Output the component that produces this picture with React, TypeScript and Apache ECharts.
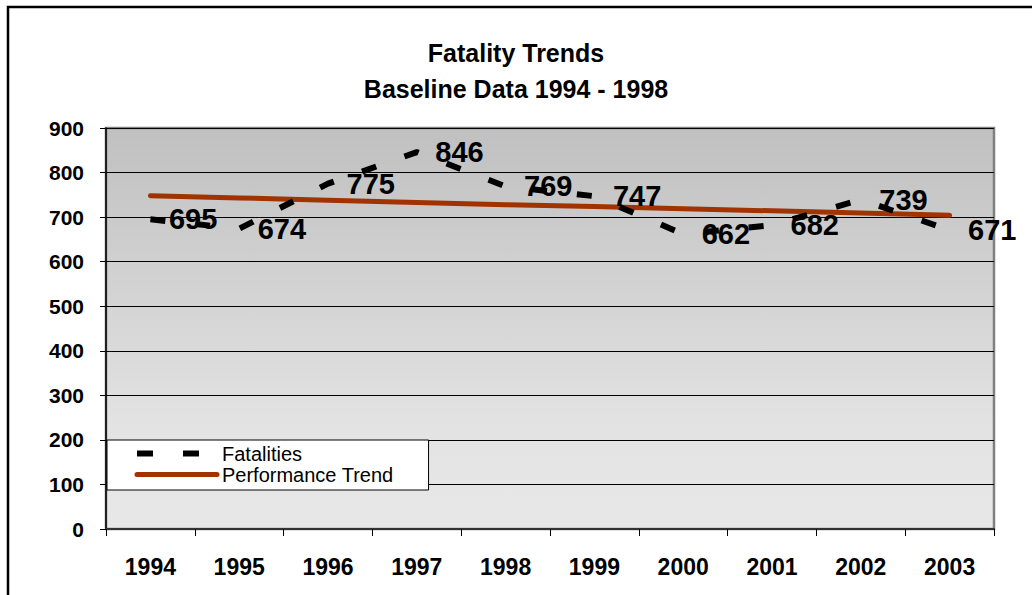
import React, { useEffect, useRef } from "react";
import * as echarts from "echarts";

const years = ["1994", "1995", "1996", "1997", "1998", "1999", "2000", "2001", "2002", "2003"];
const fatalities = [695, 674, 775, 846, 769, 747, 662, 682, 739, 671];
const trend = [748, 743, 738, 733, 728, 724, 719, 714, 709, 704];
const titleLines = ["Fatality Trends", "Baseline Data 1994 - 1998"];

export default function App() {
  const ref = useRef<HTMLDivElement>(null);
  useEffect(() => {
    if (!ref.current) return;
    const chart = echarts.init(ref.current, undefined, { renderer: "svg" });
    const font = "Arial, 'Liberation Sans', Helvetica, sans-serif";
    chart.setOption({
      animation: false,
      textStyle: { fontFamily: font },
      title: {
        text: titleLines.join("\n"),
        left: "center",
        top: 35,
        padding: [0, 0, 0, 8],
        textStyle: { fontSize: 25, fontWeight: "bold", color: "#000", lineHeight: 36, fontFamily: font },
      },
      graphic: [
        {
          type: "rect",
          shape: { x: 8, y: 7, width: 1200, height: 800 },
          style: { fill: "none", stroke: "#000", lineWidth: 2.5 },
          silent: true,
        },
      ],
      legend: {
        orient: "vertical",
        left: 107,
        top: 440,
        padding: [3, 35, 5, 27],
        itemWidth: 80,
        itemHeight: 14,
        itemGap: 0,
        backgroundColor: "#fff",
        borderColor: "#000",
        borderWidth: 1,
        borderRadius: 0,
        itemStyle: { opacity: 0 },
        textStyle: { fontSize: 20, color: "#000", lineHeight: 21, fontFamily: font },
        data: [
          { name: "Fatalities", lineStyle: { width: 6, type: [16, 30], color: "#000", cap: "butt" } },
          { name: "Performance Trend", lineStyle: { width: 5, color: "#A03300", cap: "round" } },
        ],
      },
      grid: {
        left: 106,
        right: 38,
        top: 128,
        bottom: 66,
        show: true,
        borderColor: "#808080",
        borderWidth: 2.5,
        backgroundColor: new echarts.graphic.LinearGradient(0, 0, 0, 1, [
          { offset: 0, color: "#C0C0C0" },
          { offset: 0.75, color: "#E3E3E3" },
          { offset: 1, color: "#E8E8E8" },
        ]),
      },
      xAxis: {
        type: "category",
        data: years,
        boundaryGap: true,
        axisLine: { show: true, lineStyle: { color: "#333", width: 2 } },
        axisTick: { show: true, length: 7, lineStyle: { color: "#000", width: 1 } },
        axisLabel: { fontSize: 23, fontWeight: "bold", color: "#000", margin: 26, fontFamily: font },
        splitLine: { show: false },
      },
      yAxis: {
        type: "value",
        min: 0,
        max: 900,
        interval: 100,
        axisLine: { show: true, lineStyle: { color: "#000", width: 1.5 } },
        axisTick: { show: true, length: 6, lineStyle: { color: "#000", width: 1 } },
        axisLabel: { fontSize: 21, fontWeight: "bold", color: "#000", margin: 22, fontFamily: font },
        splitLine: { show: true, lineStyle: { color: "#000", width: 1 } },
      },
      series: [
        {
          name: "Fatalities",
          type: "line",
          data: fatalities,
          symbol: "circle",
          symbolSize: 1,
          showSymbol: true,
          z: 3,
          itemStyle: { color: "rgba(0,0,0,0)" },
          lineStyle: { color: "#000", width: 6, type: [15, 30], cap: "butt" },
          label: {
            show: true,
            position: "right",
            distance: 18,
            fontSize: 29,
            fontWeight: "bold",
            color: "#000",
            fontFamily: font,
          },
        },
        {
          name: "Performance Trend",
          type: "line",
          data: trend,
          symbol: "none",
          z: 2,
          itemStyle: { color: "#A03300" },
          lineStyle: { color: "#A03300", width: 5, cap: "round" },
        },
      ],
    });
    return () => chart.dispose();
  }, []);
  return (
    <div style={{ position: "fixed", left: 0, top: 0, width: 1032, height: 595, background: "#fff" }}>
      <div ref={ref} style={{ width: 1032, height: 595 }} />
    </div>
  );
}
